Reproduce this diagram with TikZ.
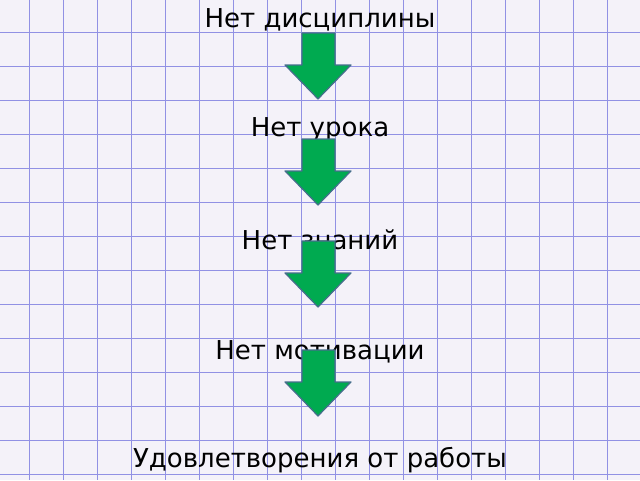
\documentclass[tikz,border=0pt]{standalone}
\usepackage{fontspec}
\setmainfont{DejaVu Sans}
\definecolor{paper}{RGB}{244,242,249}
\definecolor{gridline}{RGB}{145,145,228}
\definecolor{arrowfill}{RGB}{0,170,80}
\definecolor{arrowline}{RGB}{70,110,140}
\begin{document}
\begin{tikzpicture}[x=1pt,y=-1pt,
        label text/.style={font=\fontsize{26}{30}\selectfont,text=black,inner sep=0pt},
        down arrow/.style={fill=arrowfill,draw=arrowline,line width=1.2pt,line join=round}]
    \fill[paper] (0,0) rectangle (640,480);
    \useasboundingbox (0,0) rectangle (640,480);
    \foreach \gx in {29,63,...,640} \draw[gridline,line width=1pt] (\gx,0) -- (\gx,480);
    \foreach \gy in {32,66,...,480} \draw[gridline,line width=1pt] (0,\gy) -- (640,\gy);
    \node[label text] (discipline) at (320,20) {Нет дисциплины};
    \node[label text] (lesson) at (320,130) {Нет урока};
    \node[label text] (knowledge) at (320,240) {Нет знаний};
    \node[label text] (motivation) at (320,352) {Нет мотивации};
    \node[label text] (satisfaction) at (320,460) {Удовлетворения от работы};
    % block arrows
    \foreach \top in {33,139,241,350}
        \draw[down arrow] (302,\top) -- (335,\top) -- (335,\top+32) -- (351,\top+32)
            -- (318,\top+66) -- (285,\top+32) -- (302,\top+32) -- cycle;
\end{tikzpicture}
\end{document}
